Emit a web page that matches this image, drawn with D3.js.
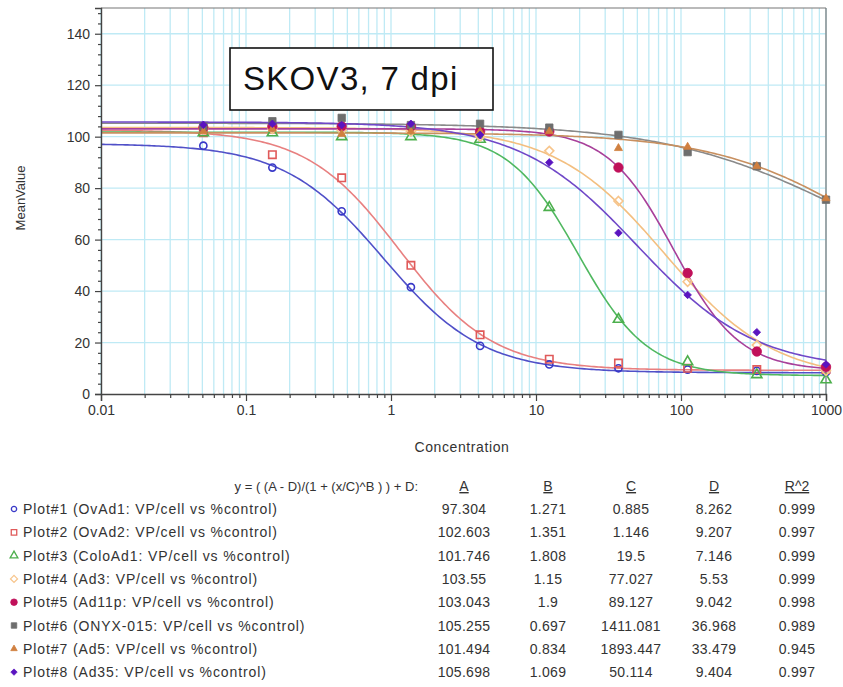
<!DOCTYPE html>
<html><head><meta charset="utf-8">
<script src="https://cdn.jsdelivr.net/npm/d3@7/dist/d3.min.js"></script>
<style>
body{margin:0;background:#fff;}
svg{display:block;font-family:"Liberation Sans",Arial,sans-serif;}
</style></head><body>
<svg id="c" width="843" height="687"></svg>
<script>
// ---- data ----
const concentrations = [0.0508, 0.152, 0.457, 1.372, 4.115, 12.35, 37.04, 111.1, 333.3, 1000];
const seriesNames = ["Plot#1 (OvAd1: VP/cell vs %control)","Plot#2 (OvAd2: VP/cell vs %control)","Plot#3 (ColoAd1: VP/cell vs %control)","Plot#4 (Ad3: VP/cell vs %control)","Plot#5 (Ad11p: VP/cell vs %control)","Plot#6 (ONYX-015: VP/cell vs %control)","Plot#7 (Ad5: VP/cell vs %control)","Plot#8 (Ad35: VP/cell vs %control)"];
const ovAd1   = [96.5, 88, 71, 41.5, 18.7, 11.5, 10, 9.5, 9, 8.5];
const ovAd2   = [101.5, 93, 84, 50, 23, 13.5, 12, 10, 9.5, 9.5];
const coloAd1 = [101.5, 101.5, 100, 100, 99, 72.5, 29, 12.5, 7.5, 5.5];
const ad3     = [103, 103, 102.5, 102, 100, 94.5, 75, 43.6, 19, 9];
const ad11p   = [103.5, 104, 104, 104, 102, 102, 88, 47, 16.5, 10.5];
const onyx015 = [104, 106, 107.3, 104.5, 105, 103.5, 100.7, 94, 88.5, 75.5];
const ad5     = [102, 103, 101, 102, 102, 102, 95.5, 96, 88.5, 76];
const ad35    = [104.6, 105, 104.5, 105, 100.7, 90, 62.6, 38.5, 24, 11.5];
const seriesValues = [ovAd1, ovAd2, coloAd1, ad3, ad11p, onyx015, ad5, ad35];
// fit parameters (4PL)
const paramA = [97.304, 102.603, 101.746, 103.55, 103.043, 105.255, 101.494, 105.698];
const paramB = [1.271, 1.351, 1.808, 1.15, 1.9, 0.697, 0.834, 1.069];
const paramC = [0.885, 1.146, 19.5, 77.027, 89.127, 1411.081, 1893.447, 50.114];
const paramD = [8.262, 9.207, 7.146, 5.53, 9.042, 36.968, 33.479, 9.404];
const paramR2 = [0.999, 0.997, 0.999, 0.999, 0.998, 0.989, 0.945, 0.997];
const paramLabelsA = ["97.304","102.603","101.746","103.55","103.043","105.255","101.494","105.698"];
const paramLabelsB = ["1.271","1.351","1.808","1.15","1.9","0.697","0.834","1.069"];
const paramLabelsC = ["0.885","1.146","19.5","77.027","89.127","1411.081","1893.447","50.114"];
const paramLabelsD = ["8.262","9.207","7.146","5.53","9.042","36.968","33.479","9.404"];
const paramLabelsR2 = ["0.999","0.997","0.999","0.999","0.998","0.989","0.945","0.997"];
const xTickValues = [0.01, 0.1, 1, 10, 100, 1000];
const xTickLabels = ["0.01","0.1","1","10","100","1000"];
const yTickValues = [0, 20, 40, 60, 80, 100, 120, 140];

// ---- styles ----
const markerColors = ["#3838c8","#e05a5a","#4caf4c","#f7c58c","#c0105a","#6e6e6e","#d08040","#5a14c0"];
const curveColors  = ["#5050c8","#e88080","#50b860","#f3bf80","#a8409a","#8a8a8a","#c89060","#7048c8"];
const markerShapes = ["circle","square","triangle","diamond","circle","square","triangle","diamond"];
const markerFilled = [false,false,false,false,true,true,true,true];
const markerSizes  = [40, 55, 45, 4.5, 70, 55, 28, 3.8];

const svg = d3.select("#c");
const L = 101, R = 826, T = 8, B = 394;
const x = d3.scaleLog().domain([0.01, 1000]).range([L, R]);
const y = d3.scaleLinear().domain([0, 150]).range([B, T]);

// grid
const gridX = [];
for (let d = 0.01; d < 999; d *= 10) for (let k = 1; k <= 9; k++) gridX.push(+(d*k).toPrecision(3));
gridX.push(1000);
svg.append("g").selectAll("line").data(gridX).join("line")
  .attr("x1", d => x(d)).attr("x2", d => x(d)).attr("y1", T).attr("y2", B)
  .attr("stroke", "#bfeaf5").attr("stroke-width", 1.3);
svg.append("g").selectAll("line").data(yTickValues.filter(v => v > 0)).join("line")
  .attr("x1", L).attr("x2", R).attr("y1", d => y(d)).attr("y2", d => y(d))
  .attr("stroke", "#bfeaf5").attr("stroke-width", 1.3);

// frame top/right
svg.append("line").attr("x1", L).attr("x2", R).attr("y1", T).attr("y2", T).attr("stroke", "#777").attr("stroke-width", 1.2);
svg.append("line").attr("x1", R).attr("x2", R).attr("y1", T).attr("y2", B).attr("stroke", "#777").attr("stroke-width", 1.2);

// curves
const curveXs = d3.range(0, 301).map(i => Math.pow(10, -2 + 5 * i / 300));
const line = d3.line().x(d => x(d[0])).y(d => y(d[1])).curve(d3.curveLinear);
seriesValues.forEach((vals, i) => {
  const pts = curveXs.map(c => [c, (paramA[i] - paramD[i]) / (1 + Math.pow(c / paramC[i], paramB[i])) + paramD[i]]);
  svg.append("path").attr("d", line(pts)).attr("fill", "none")
    .attr("stroke", curveColors[i]).attr("stroke-width", 1.6);
});

// markers
const symType = {circle: d3.symbolCircle, square: d3.symbolSquare, triangle: d3.symbolTriangle};
function markerPath(shape, size) {
  if (shape === "diamond") return `M0,${-size}L${size},0L0,${size}L${-size},0Z`;
  return d3.symbol().type(symType[shape]).size(size)();
}
function drawMarker(g, i, size) {
  const p = g.append("path").attr("d", markerPath(markerShapes[i], size));
  if (markerFilled[i]) p.attr("fill", markerColors[i]).attr("stroke", markerColors[i]).attr("stroke-width", 0.8);
  else p.attr("fill", "none").attr("stroke", markerColors[i]).attr("stroke-width", 1.6);
  return p;
}
seriesValues.forEach((vals, i) => {
  const g = svg.append("g");
  vals.forEach((v, j) => {
    const gg = g.append("g").attr("transform", `translate(${x(concentrations[j])},${y(v)})`);
    drawMarker(gg, i, markerSizes[i]);
  });
});

// axes
const axisColor = "#444";
svg.append("g").attr("transform", `translate(${L},0)`)
  .call(d3.axisLeft(y).tickValues(yTickValues).tickSize(6).tickPadding(5).tickFormat(d3.format("d")));
svg.append("g").attr("transform", `translate(${L},0)`)
  .call(d3.axisLeft(y).tickValues(d3.range(0, 151, 4).filter(v => v % 20 !== 0)).tickSize(3).tickFormat(""))
  .call(g => g.select(".domain").remove());
svg.append("g").attr("transform", `translate(0,${B})`)
  .call(d3.axisBottom(x).tickValues(xTickValues).tickSize(7).tickPadding(4).tickFormat((d, i) => xTickLabels[i]));
svg.append("g").attr("transform", `translate(0,${B})`)
  .call(d3.axisBottom(x).tickValues(gridX.filter(v => !xTickValues.includes(v))).tickSize(4).tickFormat(""))
  .call(g => g.select(".domain").remove());
svg.selectAll(".domain").attr("stroke", axisColor).attr("stroke-width", 1.4);
svg.selectAll(".tick line").attr("stroke", axisColor).attr("stroke-width", 1.2);
svg.selectAll(".tick text").attr("font-size", 14).attr("fill", "#333")
  .attr("font-family", "'Liberation Sans',Arial,sans-serif");

// axis titles
svg.append("text").attr("transform", "translate(25,198) rotate(-90)").attr("text-anchor", "middle")
  .attr("font-size", 13).attr("fill", "#333").text("MeanValue");
svg.append("text").attr("x", 462).attr("y", 452).attr("text-anchor", "middle")
  .attr("font-size", 14).attr("letter-spacing", 0.6).attr("fill", "#333").text("Concentration");

// title box
svg.append("rect").attr("x", 230).attr("y", 48).attr("width", 263).attr("height", 62)
  .attr("fill", "#fff").attr("stroke", "#111").attr("stroke-width", 1.6);
svg.append("text").attr("x", 243).attr("y", 90).attr("font-size", 33).attr("fill", "#111")
  .attr("letter-spacing", 1.3).text("SKOV3, 7 dpi");

// table
const tbl = svg.append("g").attr("fill", "#333").attr("font-size", 14);
const headerY = 491, rowY0 = 514, rowH = 23.3;
tbl.append("text").attr("x", 418).attr("y", headerY).attr("text-anchor", "end").attr("font-size", 13)
  .text("y = ( (A - D)/(1 + (x/C)^B ) ) + D:");
const colX = [464, 548, 631, 714, 797];
const colHeads = ["A","B","C","D","R^2"];
const colLabels = [paramLabelsA, paramLabelsB, paramLabelsC, paramLabelsD, paramLabelsR2];
colHeads.forEach((h, k) => {
  tbl.append("text").attr("x", colX[k]).attr("y", headerY).attr("text-anchor", "middle")
    .attr("text-decoration", "underline").text(h);
});
const legendSizes = [22, 30, 26, 3.5, 34, 30, 18, 3.2];
seriesNames.forEach((name, i) => {
  const yy = rowY0 + i * rowH;
  const mg = svg.append("g").attr("transform", `translate(14,${yy - 5})`);
  drawMarker(mg, i, legendSizes[i]).attr("stroke-width", markerFilled[i] ? 0.8 : 1.3);
  tbl.append("text").attr("x", 23).attr("y", yy).attr("letter-spacing", 0.9).text(name);
  colLabels.forEach((lab, k) => {
    tbl.append("text").attr("x", colX[k]).attr("y", yy).attr("text-anchor", "middle")
      .attr("letter-spacing", 0.3).text(lab[i]);
  });
});
</script>
</body></html>
